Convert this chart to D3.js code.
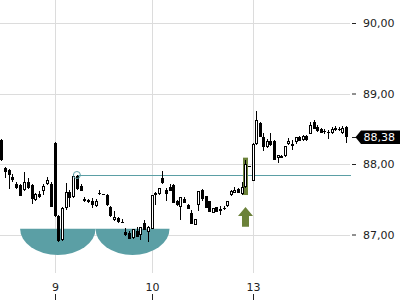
<!DOCTYPE html>
<html><head><meta charset="utf-8">
<script src="https://cdn.jsdelivr.net/npm/d3@7"></script>
<style>body{margin:0;background:#fff}svg{display:block}text{font-family:"DejaVu Sans",sans-serif}</style>
</head><body>
<svg id="c" width="400" height="300"></svg>
<script>
// candles: day 8 (0-13), day 9 (14-39), day 10 (40-67), day 13 (68-94)
const openV = [
 88.34,87.94,87.91,87.82,87.72,87.70,87.63,87.74,87.70,87.49,87.57,87.62,87.72,87.72,
 88.30,87.26,86.92,87.38,87.60,87.53,87.83,87.69,87.50,87.49,87.48,87.40,87.59,87.57,87.56,87.39,87.21,87.23,87.18,87.04,87.02,86.95,87.05,86.99,87.16,87.04,
 87.08,87.59,87.57,87.80,87.63,87.67,87.70,87.47,87.39,87.51,87.42,87.30,87.13,87.42,87.63,87.54,87.47,87.31,87.39,87.36,87.38,87.40,87.56,87.59,87.65,87.57,87.67,87.96,
 87.76,88.28,88.58,88.38,88.24,88.33,88.32,88.08,88.11,88.11,88.28,88.26,88.31,88.39,88.34,88.40,88.43,88.59,88.53,88.49,88.47,88.44,88.44,88.48,88.48,88.44,88.52];
const highV = [
 88.35,87.96,87.93,87.86,87.74,87.72,87.89,87.80,87.72,87.59,87.62,87.72,87.82,87.74,
 88.31,87.28,87.39,87.73,87.63,87.86,87.84,87.72,87.53,87.50,87.52,87.50,87.63,87.57,87.57,87.40,87.33,87.25,87.22,87.09,87.05,87.08,87.10,87.10,87.21,87.12,
 87.56,87.60,87.66,87.90,87.66,87.72,87.72,87.49,87.53,87.53,87.43,87.35,87.22,87.62,87.65,87.55,87.48,87.38,87.39,87.40,87.40,87.48,87.63,87.68,87.66,87.75,88.06,87.97,
 88.30,88.75,88.60,88.44,88.35,88.44,88.34,88.13,88.13,88.26,88.37,88.34,88.38,88.40,88.41,88.41,88.60,88.62,88.55,88.51,88.50,88.48,88.52,88.54,88.52,88.54,88.54];
const lowV = [
 88.04,87.80,87.65,87.74,87.65,87.55,87.62,87.65,87.43,87.48,87.52,87.56,87.70,87.39,
 87.25,86.89,86.91,87.35,87.39,87.52,87.63,87.62,87.46,87.45,87.38,87.39,87.56,87.56,87.40,87.25,87.19,87.16,87.16,86.98,86.94,86.94,86.96,86.92,87.06,86.90,
 87.08,87.42,87.56,87.72,87.47,87.62,87.44,87.41,87.21,87.44,87.36,87.15,87.13,87.33,87.47,87.37,87.32,87.31,87.32,87.28,87.35,87.39,87.55,87.59,87.59,87.56,87.66,87.96,
 87.76,88.27,88.38,88.18,88.22,88.26,88.06,88.01,88.08,88.10,88.27,88.20,88.29,88.32,88.33,88.33,88.42,88.49,88.46,88.44,88.43,88.36,88.43,88.47,88.47,88.43,88.30];
const closeV = [
 88.06,87.89,87.84,87.77,87.66,87.55,87.74,87.66,87.50,87.57,87.53,87.69,87.77,87.39,
 87.26,86.91,87.38,87.60,87.52,87.83,87.65,87.62,87.48,87.46,87.42,87.48,87.57,87.56,87.42,87.26,87.25,87.18,87.17,86.99,86.94,87.08,86.97,87.10,87.06,87.11,
 87.56,87.56,87.66,87.73,87.58,87.62,87.44,87.42,87.53,87.44,87.36,87.15,87.22,87.61,87.51,87.37,87.32,87.37,87.32,87.34,87.36,87.47,87.61,87.63,87.59,87.67,88.00,87.97,
 88.29,88.62,88.39,88.24,88.33,88.27,88.06,88.13,88.09,88.25,88.32,88.29,88.38,88.33,88.40,88.34,88.55,88.50,88.47,88.44,88.46,88.45,88.50,88.51,88.50,88.51,88.38];

const dayStartIdx = [14, 40, 68];
const dayLabels = ["9", "10", "13"];
const yTickValues = [87, 88, 89, 90];
const lastPrice = 88.38;
const levelValue = 87.84, levelStartIdx = 20;
const arcPairs = [[5, 25], [25, 45]];
const arcTopValue = 87.08, arcBottomValue = 86.71;
const signalIdx = 66, signalHigh = 88.09, signalLow = 87.56;
const arrowTop = 87.39, arrowBottom = 87.11;

const teal = "#5b9fa5", olive = "#6b8139";
const svg = d3.select("#c");
const x = d3.scaleLinear().domain([0, 14, 40, 68, 94]).range([1, 54.5, 151.5, 252.5, 346]);
const y = d3.scaleLinear().domain([87, 90]).range([234.5, 23]);
const fmt = d3.formatLocale({decimal: ",", thousands: ".", grouping: [3], currency: ["", "€"]}).format(".2f");
const px = v => Math.round(v) + 0.5;

// grid
const g = svg.append("g");
g.selectAll("line.h").data(yTickValues).join("line")
  .attr("x1", 0).attr("x2", 350).attr("y1", d => px(y(d))).attr("y2", d => px(y(d)))
  .attr("stroke", "#dcdcdc");
g.selectAll("line.v").data(dayStartIdx).join("line")
  .attr("y1", 0).attr("y2", 273).attr("x1", d => px(x(d))).attr("x2", d => px(x(d)))
  .attr("stroke", "#dcdcdc");

// arcs (half ellipses)
arcPairs.forEach(([a, b]) => {
  const x0 = x(a), x1 = x(b), yt = y(arcTopValue), yb = y(arcBottomValue);
  const rx = (x1 - x0) / 2, ry = yb - yt;
  svg.append("path")
    .attr("d", `M${x0},${yt} A${rx},${ry} 0 0 0 ${x1},${yt} Z`)
    .attr("fill", teal);
});

// level line + circle
const ly = px(y(levelValue));
svg.append("line").attr("x1", x(levelStartIdx)).attr("x2", 351).attr("y1", ly).attr("y2", ly)
  .attr("stroke", teal).attr("stroke-width", 1);

// signal bar and arrow
const sx = Math.round(x(signalIdx));
svg.append("rect").attr("x", sx - 2).attr("width", 5)
  .attr("y", y(signalHigh)).attr("height", y(signalLow) - y(signalHigh)).attr("fill", olive);
const at = y(arrowTop), ab = y(arrowBottom), ah = at + 9;
svg.append("path").attr("fill", olive)
  .attr("d", `M${sx+0.5},${at} L${sx+8},${ah} L${sx+4},${ah} L${sx+4},${ab} L${sx-3},${ab} L${sx-3},${ah} L${sx-7},${ah} Z`);

// candles
const data = openV.map((o, i) => ({i, o, h: highV[i], l: lowV[i], c: closeV[i]}));
const cg = svg.append("g");
data.forEach(d => {
  const cx = Math.round(x(d.i));
  cg.append("line").attr("x1", cx + 0.5).attr("x2", cx + 0.5)
    .attr("y1", Math.round(y(d.h))).attr("y2", Math.round(y(d.l))).attr("stroke", "#000");
  let yt = Math.round(y(Math.max(d.o, d.c))), yb = Math.round(y(Math.min(d.o, d.c)));
  if (yb - yt < 2) {
    cg.append("rect").attr("x", cx - 1).attr("width", 3).attr("y", yt).attr("height", Math.max(1, yb - yt)).attr("fill", "#000");
  } else if (d.c >= d.o) {
    cg.append("rect").attr("x", cx - 0.5).attr("width", 2).attr("y", yt + 0.5).attr("height", yb - yt - 1)
      .attr("fill", "#fff").attr("stroke", "#000").attr("stroke-width", 1);
  } else {
    cg.append("rect").attr("x", cx - 1).attr("width", 3).attr("y", yt).attr("height", yb - yt).attr("fill", "#000");
  }
});

svg.append("circle").attr("cx", x(levelStartIdx)).attr("cy", ly - 0.5).attr("r", 3.5)
  .attr("fill", "none").attr("stroke", teal).attr("stroke-width", 1);

// y axis
const ya = svg.append("g").attr("transform", "translate(352,0)")
  .call(d3.axisRight(y).tickValues(yTickValues).tickFormat(fmt).tickSize(4).tickPadding(7));
ya.select(".domain").remove();
ya.selectAll("line").attr("stroke", "#222");
ya.selectAll("text").attr("font-size", 11).attr("fill", "#222").attr("font-family", "DejaVu Sans");

// x axis
const xa = svg.append("g").attr("transform", "translate(0.5,300)")
  .call(d3.axisTop(x).tickValues(dayStartIdx).tickFormat((d, i) => dayLabels[i]).tickSize(6).tickPadding(3));
xa.select(".domain").remove();
xa.selectAll("line").attr("stroke", "#222");
xa.selectAll("text").attr("font-size", 11).attr("fill", "#222").attr("font-family", "DejaVu Sans");

// last price marker
const py = y(lastPrice);
svg.append("line").attr("x1", 352).attr("x2", 356).attr("y1", px(py)).attr("y2", px(py)).attr("stroke", "#222");
svg.append("path").attr("fill", "#000")
  .attr("d", `M355.5,${py} L361,${py-6.8} L400,${py-6.8} L400,${py+6.8} L361,${py+6.8} Z`);
svg.append("text").attr("x", 363.5).attr("y", py + 4).attr("fill", "#fff").attr("font-size", 11)
  .text(fmt(lastPrice));
</script>
</body></html>
